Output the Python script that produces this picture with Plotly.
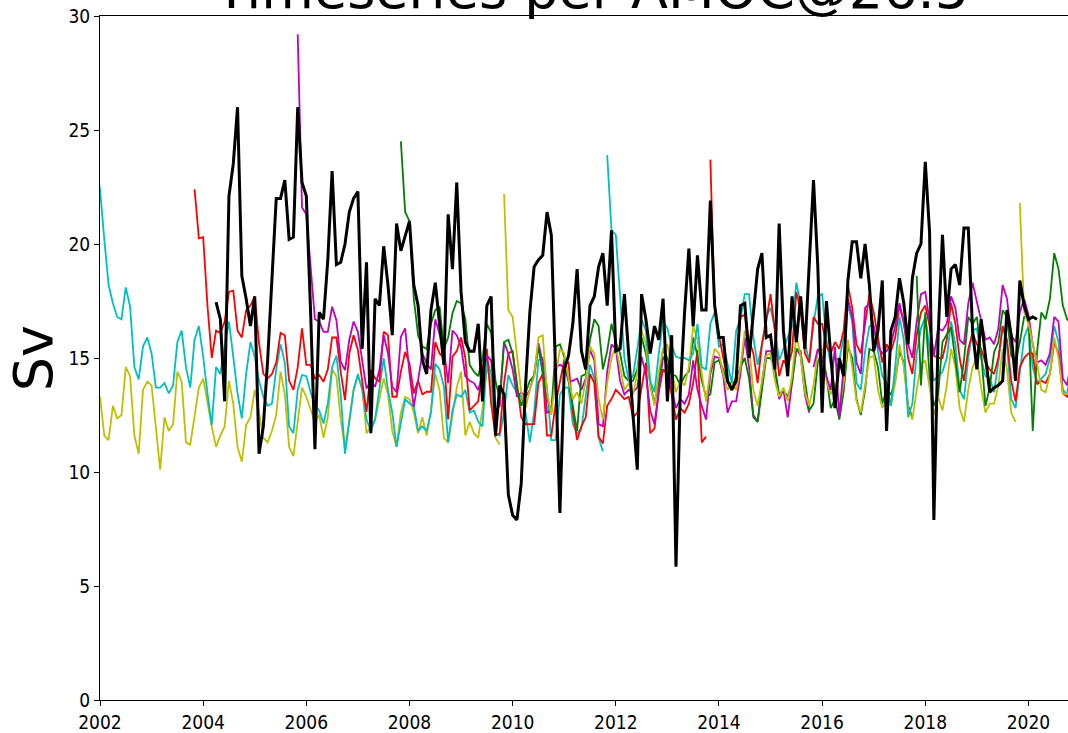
import plotly.graph_objects as go

# ---------------------------------------------------------------
# Monthly AMOC transport at 26.5N (Sv)
# Model runs are listed from their first month ("YYYY-MM");
# the observed record is drawn last in black.
# ---------------------------------------------------------------

run_y_a_start = "2002-01"
run_y_a = [
    13.3, 11.6, 11.4, 12.9, 12.35, 12.5, 14.6, 14.2, 11.6, 10.8, 13.6, 13.96,
    13.8, 11.8, 10.1, 12.4, 11.8, 12.1, 14.4, 13.96, 11.3, 11.2, 12.4, 13.7,
    14.1, 13.0, 12.0, 11.1, 11.6, 12.0, 14.0, 13.0, 11.1, 10.45, 12.06, 12.4,
    13.6, 12.6, 11.5, 11.3, 11.8, 12.5, 14.4, 13.4, 11.1, 10.7, 12.3, 13.7,
    13.3, 12.7, 12.2, 12.5, 11.5, 12.4, 14.5, 14.2, 12.3, 11.0, 12.4, 13.6,
    14.2, 13.7, 11.7, 12.0, 12.3, 13.2, 14.1, 13.4, 11.8, 11.1, 12.6, 13.3,
    13.2, 12.6, 11.7, 12.4, 11.6, 12.7, 14.3, 13.6, 11.5, 11.3, 12.6, 13.7,
    14.4, 11.6, 12.2, 11.7, 11.5, 12.8, 14.6, 13.9, 11.5, 11.2,
]

run_c_a_start = "2001-11"
run_c_a = [
    25.0, 23.6,
    22.4, 20.2, 18.2, 17.4, 16.8, 16.7, 18.1, 17.25, 14.6, 14.06, 15.5, 15.9,
    15.2, 13.7, 13.7, 13.9, 13.45, 13.8, 15.7, 16.2, 14.6, 13.7, 15.8, 16.4,
    15.06, 13.45, 12.06, 14.6, 14.3, 15.5, 16.6, 15.06, 13.45, 12.35, 14.3, 15.7,
    15.06, 14.0, 13.3, 12.9, 13.0, 14.5, 15.6, 14.8, 12.0, 11.7, 13.6, 14.25,
    14.2, 13.5, 12.9, 12.7, 12.13, 13.0, 14.6, 15.1, 13.4, 10.8, 12.3, 13.6,
    14.3, 13.6, 12.3, 11.8, 12.3, 13.6, 15.0, 13.6, 12.6, 11.1, 12.2, 13.2,
    13.0, 12.9, 11.8, 12.0, 11.8, 12.6, 14.75, 14.5, 13.75, 11.3, 12.7, 13.4,
    13.3, 13.6, 12.6, 12.7, 12.2, 12.0, 14.9, 14.3, 11.7, 11.6, 12.6, 14.25,
    13.8, 13.5, 13.3, 12.6, 11.3, 12.6, 14.9, 15.0, 13.7, 11.4, 11.4, 13.4,
    13.7, 13.7, 12.1, 11.7, 11.9, 13.2, 14.7, 14.1, 11.5, 10.9,
]

run_r_a_start = "2003-11"
run_r_a = [
    22.4, 20.25,
    20.3, 17.3, 15.0, 16.2, 16.1, 16.6, 17.9, 17.95, 16.2, 15.9, 17.1, 17.3,
    17.7, 15.65, 14.3, 14.1, 14.3, 14.8, 16.1, 16.0, 14.0, 13.6, 14.6, 16.3,
    14.7, 14.7, 14.1, 14.25, 13.96, 14.5, 15.9, 15.9, 14.4, 13.15, 15.2, 16.0,
    15.35, 13.9, 12.64, 14.47, 14.1, 13.96, 16.15, 16.0, 13.3, 13.3, 14.4, 15.27,
    14.76, 13.45, 14.0, 13.4, 13.52, 13.52, 15.7, 15.2, 15.0, 12.3, 15.06, 15.3,
    15.9, 15.0, 12.7, 12.9, 13.1, 14.6, 15.4, 13.0, 11.6, 11.7, 13.9, 15.2,
    15.3, 13.9, 12.4, 12.1, 12.1, 12.1, 13.9, 14.3, 11.6, 11.6, 13.0, 14.0,
    14.9, 14.8, 12.6, 11.4, 12.0, 12.4, 14.3, 13.9, 11.55, 11.25, 12.9, 13.2,
    13.6, 13.4, 13.2, 13.3, 12.4, 12.6, 13.8, 14.8, 11.7, 11.9, 13.5, 14.5,
    14.3, 13.4, 12.3, 12.8, 12.6, 13.0, 13.9, 15.35, 11.3, 11.55,
]

run_m_a_start = "2005-11"
run_m_a = [
    29.2, 21.6,
    21.3, 19.0, 16.7, 16.6, 16.15, 16.15, 17.25, 16.66, 14.84, 14.47, 15.8, 16.6,
    16.15, 14.9, 13.66, 14.0, 13.74, 14.47, 16.0, 15.2, 13.74, 13.5, 15.93, 16.3,
    14.32, 12.86, 14.0, 15.2, 14.76, 14.5, 16.7, 16.0, 15.4, 13.9, 16.2, 16.0,
    15.5, 14.2, 14.0, 13.9, 13.6, 14.3, 15.1, 14.9, 12.7, 12.9, 15.7, 15.2,
    14.5, 13.3, 13.5, 13.3, 13.6, 14.3, 15.65, 14.8, 12.6, 12.7, 14.6, 14.7,
    14.6, 14.0, 14.0, 14.1, 13.6, 14.1, 15.35, 14.9, 12.1, 12.0, 14.4, 15.6,
    15.4, 14.0, 13.4, 13.6, 13.5, 13.7, 15.05, 14.3, 12.7, 12.1, 13.5, 15.06,
    14.7, 13.6, 12.8, 13.2, 13.0, 13.4, 14.9, 13.6, 12.9, 12.3, 14.3, 15.06,
    15.0, 14.2, 12.6, 13.1, 13.1, 14.3, 15.9, 14.6, 12.5, 12.2, 13.9, 15.3,
    15.3, 14.5, 13.2, 13.6, 12.4, 14.0, 15.4, 15.1, 13.4, 12.6,
]

run_g_a_start = "2007-11"
run_g_a = [
    24.5, 21.4,
    21.0, 17.6, 16.0, 15.5, 15.4, 16.5, 17.1, 17.25, 15.4, 15.9, 16.96, 17.5,
    17.4, 16.7, 14.7, 14.4, 14.2, 15.0, 16.5, 16.1, 14.0, 13.2, 15.7, 15.8,
    15.2, 13.7, 12.9, 13.5, 14.0, 14.2, 15.5, 14.3, 13.3, 12.6, 15.5, 15.6,
    15.06, 14.0, 12.9, 11.8, 14.2, 14.3, 15.8, 16.7, 16.4, 14.5, 15.3, 16.5,
    15.7, 15.2, 14.2, 14.0, 14.0, 14.5, 15.9, 15.2, 13.9, 13.0, 14.0, 15.4,
    15.0, 14.3, 14.2, 13.8, 14.2, 14.4, 15.9, 15.1, 14.0, 13.3, 13.4, 14.8,
    14.9, 14.5, 13.9, 13.9, 14.0, 14.6, 15.0, 14.1, 12.4, 12.2, 13.6, 15.0,
    15.0, 14.6, 13.4, 13.6, 13.3, 13.9, 15.4, 15.3, 14.0, 12.7, 13.0, 14.8,
    15.3, 14.2, 12.8, 13.2, 12.3, 13.5, 15.5, 15.0, 13.2, 12.5, 13.6, 15.4,
    15.3, 14.6, 13.0, 13.6, 13.4, 14.0, 15.3, 14.8, 12.9, 12.4,
]

run_y_b_start = "2009-11"
run_y_b = [
    22.2, 17.1,
    16.8, 15.0, 13.5, 12.8, 13.6, 14.2, 15.9, 16.0, 13.5, 12.5, 14.2, 15.4,
    15.2, 14.1, 13.2, 13.5, 13.0, 14.0, 15.5, 15.2, 13.2, 12.3, 13.9, 15.0,
    15.5, 14.6, 13.6, 13.9, 13.4, 14.3, 16.2, 15.6, 13.8, 12.9, 14.4, 15.4,
    15.6, 14.5, 13.5, 14.0, 13.8, 14.6, 16.4, 15.8, 14.3, 13.1, 14.5, 15.4,
    15.2, 14.3, 13.6, 13.9, 13.6, 14.6, 16.2, 15.5, 13.6, 12.9, 14.0, 15.1,
    15.2, 14.0, 13.3, 13.7, 13.1, 14.2, 16.0, 15.1, 13.5, 12.9, 13.8, 15.3,
    15.4, 14.0, 13.4, 13.9, 12.8, 13.9, 15.8, 14.6, 13.1, 12.6, 13.8, 15.0,
    15.1, 13.6, 12.8, 13.2, 12.9, 13.9, 15.6, 14.6, 12.8, 12.3, 13.6, 14.7,
    14.9, 13.6, 12.5, 13.3, 12.7, 13.8, 15.4, 14.6, 12.8, 12.2, 13.6, 14.6,
    15.0, 13.7, 12.6, 13.0, 13.0, 13.8, 15.4, 14.5, 12.6, 12.2,
]

run_c_b_start = "2011-11"
run_c_b = [
    23.9, 20.6,
    20.4, 17.8, 15.0, 14.0, 14.2, 15.4, 16.7, 16.2, 14.0, 13.5, 15.2, 16.6,
    16.3, 15.5, 15.06, 15.0, 15.0, 14.9, 15.2, 16.5, 14.6, 14.5, 16.5, 17.0,
    15.5, 15.6, 14.8, 13.9, 16.2, 16.7, 17.8, 17.8, 15.9, 14.7, 15.6, 16.8,
    17.2, 16.3, 14.9, 15.4, 15.9, 16.4, 18.3, 17.4, 15.6, 14.9, 16.5, 17.7,
    17.8, 15.8, 14.7, 15.0, 14.9, 15.9, 17.3, 16.6, 13.9, 13.6, 15.3, 16.4,
    16.4, 15.3, 14.2, 13.9, 12.9, 14.6, 16.8, 15.8, 12.4, 13.0, 15.2, 16.3,
    16.8, 15.4, 14.0, 14.2, 14.4, 15.0, 16.6, 15.6, 13.6, 13.2, 15.0, 16.2,
    16.3, 15.0, 14.2, 14.1, 13.5, 14.8, 16.4, 15.6, 13.2, 12.8, 14.3, 15.9,
    16.4, 14.6, 13.9, 14.1, 14.3, 15.0, 16.4, 15.7, 13.6, 13.4, 14.6,
]

run_r_b_start = "2013-11"
run_r_b = [
    23.7, 17.2,
    16.0, 15.0, 14.0, 13.6, 14.2, 16.8, 16.9, 15.8, 15.2, 13.9, 15.6, 16.6,
    17.8, 16.2, 14.2, 14.9, 14.6, 15.3, 17.9, 17.1, 15.2, 14.8, 16.8, 16.5,
    16.5, 15.5, 15.2, 15.7, 15.4, 16.2, 18.2, 17.2, 15.6, 15.2, 16.4, 17.8,
    17.0, 15.8, 14.8, 15.6, 15.3, 15.9, 17.3, 16.6, 15.0, 14.3, 16.0, 17.0,
    17.3, 16.4, 15.1, 15.0, 15.0, 15.8, 17.4, 16.5, 15.0, 14.0, 15.4, 16.1,
    15.6, 15.4, 14.8, 14.5, 14.3, 15.0, 16.4, 15.8, 14.0, 13.1, 14.6, 15.0,
    15.2, 15.2, 13.85, 14.0, 13.9, 14.3, 15.7, 15.2, 13.45, 13.3, 14.2,
]

run_m_b_start = "2015-11"
run_m_b = [
    14.6, 15.4,
    15.0, 14.2, 13.6, 15.5, 12.4, 14.6, 17.6, 16.8, 14.8, 14.3, 17.2, 17.4,
    16.4, 15.5, 15.2, 15.3, 15.6, 16.4, 17.4, 16.5, 15.6, 15.0, 16.6, 17.8,
    17.9, 16.6, 15.1, 16.3, 16.2, 16.5, 17.7, 17.2, 15.8, 15.6, 17.4, 18.3,
    17.5, 16.6, 15.8, 15.9, 15.6, 16.3, 18.2, 17.6, 16.0, 15.7, 17.0, 17.6,
    16.9, 15.6, 14.8, 14.9, 14.7, 15.2, 16.8, 16.6, 14.1, 13.8, 15.0,
]

run_g_b_start = "2017-11"
run_g_b = [
    18.6, 13.8,
    17.0, 14.2, 12.9, 13.4, 15.7, 16.0, 16.35, 14.9, 13.5, 14.9, 16.8, 16.5,
    16.8, 15.2, 12.9, 13.7, 15.25, 15.7, 17.1, 16.8, 15.1, 14.8, 15.7, 16.8,
    16.8, 11.8, 15.25, 17.0, 16.7, 17.6, 19.6, 18.9, 17.3, 16.7, 16.5,
]

run_y_c_start = "2019-11"
run_y_c = [
    21.8, 17.0,
    16.5, 15.6, 14.8, 13.6, 13.5, 14.3, 15.9, 15.0, 13.45, 13.4, 13.8,
]

obs_start = "2004-04"
obs = [
    17.45, 16.7, 13.1, 22.1, 23.5, 26.0, 18.6, 17.6, 16.4,
    17.7, 10.8, 12.0, 14.9, 18.5, 22.0, 22.0, 22.8, 20.2, 20.3, 26.0, 22.7,
    22.1, 17.0, 11.0, 17.0, 16.7, 19.3, 23.2, 19.1, 19.2, 20.0, 21.4, 22.0,
    22.3, 15.4, 19.2, 11.7, 17.6, 17.3, 19.9, 18.2, 16.0, 20.9, 19.7, 20.4,
    21.0, 18.2, 17.3, 14.9, 14.3, 17.1, 18.3, 16.5, 14.7, 21.3, 18.9, 22.7,
    17.9, 15.7, 15.3, 15.3, 16.5, 13.1, 17.3, 17.7, 11.6, 13.8, 13.4, 9.0,
    8.1, 7.9, 9.5, 13.8, 17.0, 19.0, 19.3, 19.5, 21.4, 20.4, 14.2, 8.2,
    14.5, 15.1, 16.5, 18.9, 15.3, 14.5, 17.3, 17.7, 19.0, 19.6, 17.3, 20.6,
    15.3, 15.4, 17.8, 15.0, 12.5, 10.1, 17.8, 16.7, 15.2, 16.4, 15.8, 17.6,
    13.1, 16.0, 5.85, 13.5, 17.0, 19.8, 16.4, 19.5, 17.1, 17.1, 21.9, 17.3,
    15.9, 15.9, 14.0, 13.6, 14.0, 17.3, 17.4, 15.0, 17.0, 18.9, 19.6, 15.9,
    16.0, 14.5, 20.9, 16.2, 14.2, 17.7, 15.7, 17.7, 15.4, 18.9, 22.8, 19.0,
    12.6, 17.5, 15.0, 12.8, 15.0, 14.2, 18.4, 20.1, 20.1, 18.5, 20.0, 18.2,
    15.3, 16.2, 18.4, 11.8, 16.2, 16.8, 18.5, 17.4, 15.6, 18.5, 19.6, 20.0,
    23.6, 20.5, 7.9, 16.0, 20.4, 16.8, 18.9, 19.1, 18.2, 20.7, 20.7, 16.2,
    14.5, 16.7, 15.1, 13.5, 13.7, 13.8, 14.0, 17.1, 16.0, 14.0, 18.4, 17.3,
    16.7, 16.8, 16.7,
]

# matplotlib-style single-letter colours
COLORS = {"g": "#008000", "r": "#ff0000", "c": "#00bfbf",
          "m": "#bf00bf", "y": "#bfbf00", "k": "#000000"}

runs = [
    ("y", run_y_a_start, run_y_a),
    ("c", run_c_a_start, run_c_a),
    ("r", run_r_a_start, run_r_a),
    ("m", run_m_a_start, run_m_a),
    ("g", run_g_a_start, run_g_a),
    ("y", run_y_b_start, run_y_b),
    ("c", run_c_b_start, run_c_b),
    ("r", run_r_b_start, run_r_b),
    ("m", run_m_b_start, run_m_b),
    ("g", run_g_b_start, run_g_b),
    ("y", run_y_c_start, run_y_c),
]


def decimal_months(start, n):
    year, month = (int(p) for p in start.split("-"))
    first = year + (month - 1) / 12.0
    return [first + i / 12.0 for i in range(n)]


fig = go.Figure()
for key, start, vals in runs:
    fig.add_trace(go.Scatter(
        x=decimal_months(start, len(vals)), y=vals, mode="lines",
        line=dict(color=COLORS[key], width=1.8), hoverinfo="skip"))

fig.add_trace(go.Scatter(
    x=decimal_months(obs_start, len(obs)), y=obs, mode="lines",
    line=dict(color=COLORS["k"], width=3), hoverinfo="skip"))

tick_font = dict(family="DejaVu Sans Condensed, DejaVu Sans", size=19, color="black")
x_ticks = list(range(2002, 2021, 2))
y_ticks = list(range(0, 31, 5))

fig.update_layout(
    width=1068, height=733,
    margin=dict(l=100, r=0, t=16, b=33),
    plot_bgcolor="white", paper_bgcolor="white",
    showlegend=False,
    xaxis=dict(range=[2002, 2020.767], tickvals=x_ticks,
               ticktext=[str(t) for t in x_ticks],
               showline=True, linecolor="black", linewidth=1, mirror=True,
               ticks="outside", ticklen=5, tickwidth=1, tickcolor="black",
               showgrid=False, zeroline=False, tickfont=tick_font),
    yaxis=dict(range=[0, 30], tickvals=y_ticks,
               showline=True, linecolor="black", linewidth=1,
               ticks="outside", ticklen=5, tickwidth=1, tickcolor="black",
               showgrid=False, zeroline=False, tickfont=tick_font),
    annotations=[
        dict(text="Timeseries per AMOC@26.5", xref="paper", yref="paper",
             x=0.508, y=1.0387, xanchor="center", yanchor="middle",
             showarrow=False,
             font=dict(family="DejaVu Sans", size=54, color="black")),
        dict(text="Sv", xref="paper", yref="paper",
             x=-0.069, y=0.5, xanchor="center", yanchor="middle",
             textangle=-90, showarrow=False,
             font=dict(family="DejaVu Sans", size=54, color="black")),
    ],
)

fig.write_html("out.html")
